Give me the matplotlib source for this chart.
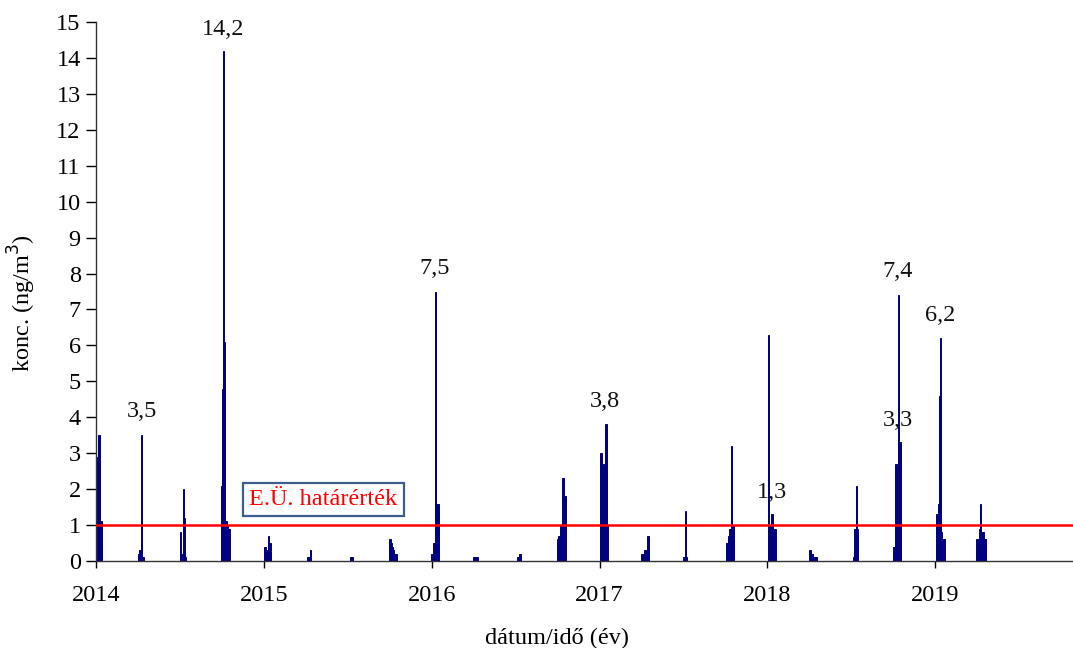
import matplotlib
matplotlib.use("Agg")
import matplotlib.pyplot as plt
import numpy as np

# ---- data: sampling campaigns (start as decimal year) and sample values (ng/m3) ----
campaign_start = [2014.000, 2014.250, 2014.499, 2014.743, 2014.998, 2015.254,
                  2015.515, 2015.747, 2015.996, 2016.246, 2016.507, 2016.745,
                  2017.001, 2017.244, 2017.494, 2017.755, 2018.005, 2018.249,
                  2018.510, 2018.748, 2019.003, 2019.241]
campaign_values = [
    [0.5, 2.9, 3.5, 3.5, 1.1, 1.1],
    [0.2, 0.3, 0.3, 3.5, 0.1, 0.1],
    [0.8, 0.2, 0.2, 2.0, 1.2, 0.1],
    [2.1, 4.8, 14.2, 6.1, 1.1, 1.1, 1.0, 0.9, 0.9],
    [0.4, 0.4, 0.3, 0.3, 0.7, 0.5, 0.5],
    [0.1, 0.1, 0.1, 0.3, 0.3],
    [0.1, 0.1, 0.1],
    [0.6, 0.6, 0.5, 0.4, 0.3, 0.2, 0.2, 0.2],
    [0.2, 0.2, 0.5, 0.5, 7.5, 1.6, 1.6, 1.6],
    [0.1, 0.1, 0.1, 0.1, 0.1],
    [0.1, 0.1, 0.2, 0.2],
    [0.6, 0.7, 0.7, 1.0, 1.0, 2.3, 2.3, 1.8, 1.8],
    [3.0, 3.0, 1.1, 2.7, 2.7, 3.8, 3.8, 1.0],
    [0.2, 0.2, 0.2, 0.3, 0.3, 0.3, 0.7, 0.7],
    [0.1, 0.1, 1.4, 0.1],
    [0.5, 0.5, 0.7, 0.9, 0.9, 3.2, 1.0, 1.0],
    [6.3, 1.0, 1.0, 1.3, 1.3, 0.9, 0.9, 0.9],
    [0.3, 0.3, 0.2, 0.2, 0.1, 0.1, 0.1, 0.1],
    [0.1, 0.9, 0.9, 2.1, 0.9],
    [0.4, 0.4, 2.7, 2.7, 1.0, 7.4, 3.3, 3.3],
    [1.3, 1.3, 1.6, 4.6, 6.2, 0.8, 0.6, 0.6, 0.6],
    [0.6, 0.6, 0.6, 0.9, 1.6, 0.3, 0.8, 0.8, 0.6, 0.6],
]
sample_step_days = 2.17

# annotated peaks
annot_x = [2014.275, 2014.755, 2016.020, 2017.030, 2018.027, 2018.775, 2018.775, 2019.030]
annot_y = [4.15, 14.8, 8.13, 4.43, 1.92, 8.07, 3.90, 6.82]
annot_text = ["3,5", "14,2", "7,5", "3,8", "1,3", "7,4", "3,3", "6,2"]

limit_value = 1.0
limit_label = "E.Ü. határérték"
year_ticks = [2014, 2015, 2016, 2017, 2018, 2019]
y_ticks = list(range(0, 16))

# ---- plotting ----
plt.rcParams['font.family'] = ['Liberation Serif', 'DejaVu Serif']
FS = 17.5
fig = plt.figure(figsize=(10.73, 6.48), dpi=100)
ax = fig.add_axes([96 / 1073, 1 - 561 / 648, 1 - 96 / 1073, (561 - 22) / 648])

step = sample_step_days / 365.25
for start, vals in zip(campaign_start, campaign_values):
    xs = start + np.arange(len(vals)) * step
    ax.bar(xs, vals, width=step, align='edge', color='#000080', edgecolor='#000080',
           linewidth=0.7, zorder=2)

ax.axhline(limit_value, color='#FF0000', linewidth=1.8, zorder=3)

for x, y, t in zip(annot_x, annot_y, annot_text):
    ax.text(x, y, t, ha='center', va='center', fontsize=FS, color='#111111', zorder=4)

ax.text(2015.355, 1.70, limit_label, ha='center', va='center', fontsize=FS, color='#FF0000',
        zorder=5,
        bbox=dict(boxstyle='square,pad=0.25', facecolor='white', edgecolor='#3B5E8C', linewidth=1.6))

ax.set_xlim(2014, 2019.82)
ax.set_ylim(0, 15)
ax.set_xticks(year_ticks)
ax.set_xticklabels([str(y) for y in year_ticks])
ax.set_yticks(y_ticks)
ax.tick_params(axis='x', direction='out', length=5, width=1, pad=12, labelsize=FS)
ax.tick_params(axis='y', direction='out', length=7, width=1, pad=4, labelsize=FS)
for s in ['top', 'right']:
    ax.spines[s].set_visible(False)
for s in ['left', 'bottom']:
    ax.spines[s].set_linewidth(1.0)
    ax.spines[s].set_color('#333333')

fig.text(22 / 1073, 1 - 303 / 648, "konc. (ng/m$^3$)", rotation=90, ha='center', va='center',
         fontsize=FS)
fig.text(557 / 1073, 1 - 638 / 648, "dátum/idő (év)", ha='center', va='center', fontsize=FS)

fig.savefig("out.png", dpi=100)
